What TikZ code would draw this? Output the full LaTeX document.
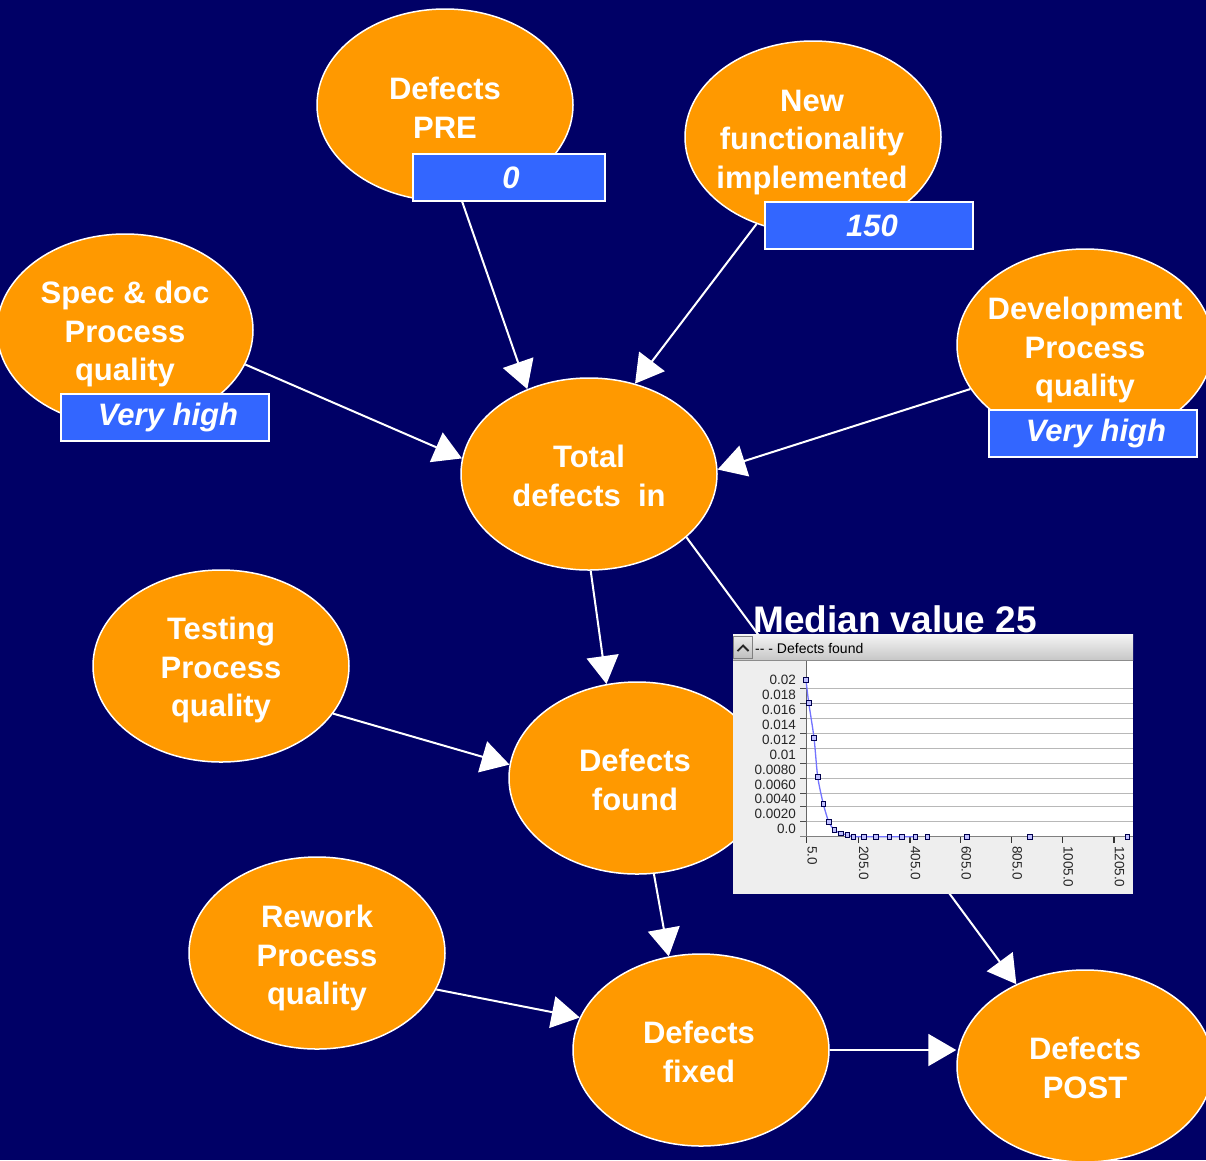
\documentclass[tikz,border=0pt]{standalone}
\usepackage{fontspec}
\setmainfont{Liberation Sans}
\usetikzlibrary{shapes.geometric,arrows.meta,calc}
\definecolor{navy}{RGB}{0,0,102}
\definecolor{orng}{RGB}{255,153,0}
\definecolor{bbox}{RGB}{51,102,255}
\definecolor{chartbg}{RGB}{238,238,238}
\pgfdeclarelayer{bg}
\pgfdeclarelayer{edges}
\pgfsetlayers{bg,edges,main}
\tikzset{
  ell/.style={ellipse, fill=orng, draw=white, line width=1.5pt, minimum width=256pt, minimum height=192pt, inner sep=0pt},
  lbl/.style={text=white, font=\bfseries\fontsize{31}{38.5}\selectfont, align=center, inner sep=0pt},
  vbox/.style={rectangle, fill=bbox, draw=white, line width=2pt, minimum width=192pt, minimum height=47pt, inner sep=0pt, text=white, font=\bfseries\itshape\fontsize{31}{38}\selectfont},
  arr/.style={draw=white, line width=2pt, -{Triangle[length=28pt,width=32pt]}},
  ylab/.style={anchor=east, font=\fontsize{13.5}{15}\selectfont, text=black!85, inner sep=0pt},
  xlab/.style={anchor=west, rotate=-90, font=\fontsize{13.5}{15}\selectfont, text=black!85, inner sep=0pt},
  mk/.style={draw=black!70!blue, fill=blue!25!white, line width=1pt}
}
\begin{document}
\begin{tikzpicture}[x=1pt,y=-1pt]
\useasboundingbox (0,0) rectangle (1206,1160);
\begin{pgfonlayer}{bg}
\fill[navy] (0,0) rectangle (1206,1160);
\end{pgfonlayer}

% ellipses
\node[ell] (pre)  at (445,105)  {};
\node[ell] (new)  at (813,137)  {};
\node[ell] (spec) at (125,330)  {};
\node[ell] (dev)  at (1085,345) {};
\node[ell] (tot)  at (589,474)  {};
\node[ell] (test) at (221,666)  {};
\node[ell] (fnd)  at (637,778)  {};
\node[ell] (rew)  at (317,953)  {};
\node[ell] (fix)  at (701,1050) {};
\node[ell] (post) at (1085,1066){};

% labels
\node[lbl] (preT)  at (445,108)  {Defects\\PRE};
\node[lbl] (newT)  at (812,142.5)  {New\\functionality\\implemented};
\node[lbl] (specT) at (125,334)  {Spec \& doc\\Process\\quality};
\node[lbl] (devT)  at (1085,350) {Development\\Process\\quality};
\node[lbl] (totT)  at (589,476)  {Total\\defects\ \ in};
\node[lbl] (testT) at (221,670)  {Testing\\Process\\quality};
\node[lbl] (fndT)  at (635,780)  {Defects\\found};
\node[lbl] (rewT)  at (317,958)  {Rework\\Process\\quality};
\node[lbl] (fixT)  at (699,1052) {Defects\\fixed};
\node[lbl] (postT) at (1085,1068){Defects\\POST};

% value boxes
\node[vbox] (b0)   at (509,177.5)  {\hspace{4pt}0};
\node[vbox, minimum width=208pt] (b150) at (869,225.5)  {\hspace{6pt}150};
\node[vbox, minimum width=208pt] (bsp)  at (165,417.5)  {\hspace{6pt}Very high};
\node[vbox, minimum width=208pt] (bdv)  at (1093,433.5) {\hspace{6pt}Very high};

% connectors
\begin{pgfonlayer}{edges}
\draw[arr] (pre.-80) -- (tot.126);
\draw[arr] (new.-123) -- (tot.63);
\draw[arr] (spec.-16) -- (tot.173);
\draw[arr] (dev.201) -- (tot.2);
\draw[arr] (tot.-89) -- (fnd.108);
\draw[arr] (tot.-33) -- (post.130);
\draw[arr] (test.-23) -- (fnd.174);
\draw[arr] (fnd.-80) -- (fix.109);
\draw[arr] (rew.-17) -- (fix.165);
\draw[arr] (fix.east) -- (fix.east -| post.west);
\end{pgfonlayer}

% chart
\node[anchor=base west, text=white, font=\bfseries\fontsize{37}{40}\selectfont, inner sep=0pt] (med) at (753,632) {Median value 25};
\fill[chartbg] (733,634) rectangle (1133,894);
\shade[top color=white!96!black, bottom color=black!22] (733,634) rectangle (1133,660);
\draw[black!45, line width=1pt] (733,660) -- (1133,660);
\shade[top color=white!92!black, bottom color=black!25, draw=black!50] (733.5,636) rectangle (752.5,658);
\draw[black!85, line width=1.8pt] (737.5,651) -- (743,645.5) -- (748.5,651);
\node[anchor=base west, font=\fontsize{14}{16}\selectfont, text=black, inner sep=0pt] (ttl) at (755,653) {-{}- - Defects found};
\fill[white] (806.7,661) rectangle (1133,836.7);
\foreach \gy/\lab in {688.3/0.02,703.3/0.018,718.3/0.016,733.3/0.014,748.3/0.012,763.3/0.01,778.3/0.0080,793.3/0.0060,806.7/0.0040,821.7/0.0020,836.7/0.0}{
  \draw[black!28, line width=1pt] (806.7,\gy) -- (1133,\gy);
  \draw[black!70, line width=1pt] (800,\gy) -- (806.7,\gy);
  \node[ylab] at (796,\gy-8) {\lab};
}
\draw[black!60, line width=1.2pt] (806.7,661) -- (806.7,843);
\draw[black!50, line width=1pt] (800,836.7) -- (1133,836.7);
\foreach \tx/\lab in {806.7/5.0,858.3/205.0,910/405.0,960.7/605.0,1011.7/805.0,1062.7/1005.0,1114/1205.0}{
  \draw[black!80, line width=1.2pt] (\tx,836.7) -- (\tx,843.3);
  \node[xlab] at (\tx+5.5,846) {\lab};
}
\draw[blue!55!white, line width=1.3pt] plot[smooth, tension=0.4] coordinates {(806,680) (808.7,702.7) (814,737.7) (817.7,777) (823.3,804) (828.7,821.7) (834.3,830) (841,833.3) (847.3,835) (853.3,836.7) (864,836.7) (876,836.7) (889.3,836.7) (901.7,836.7) (915.3,836.7)};
\foreach \px/\py in {806/680,808.7/702.7,814/737.7,817.7/777,823.3/804,828.7/821.7,834.3/830,841/833.3,847.3/835,853.3/836.7,864/836.7,876/836.7,889.3/836.7,901.7/836.7,915.3/836.7,927.3/836.7,966.7/836.7,1030/836.7,1127.3/836.7}{
  \draw[mk] (\px-2.3,\py-2.3) rectangle (\px+2.3,\py+2.3);
}
\end{tikzpicture}
\end{document}
